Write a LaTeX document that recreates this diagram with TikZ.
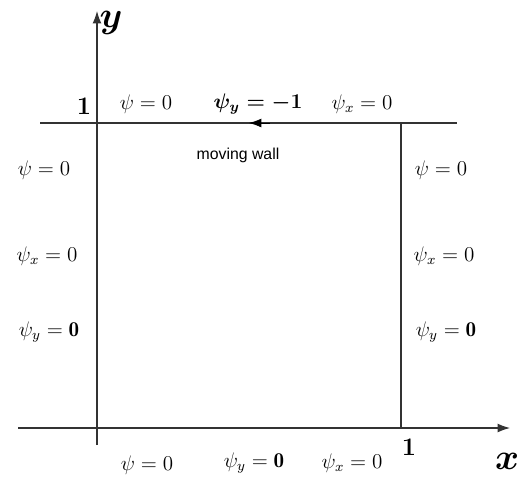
\documentclass[tikz,border=0pt]{standalone}
\usepackage{amsmath, amssymb}
\usepackage{fontspec}
\usepackage{tikz}
\usetikzlibrary{positioning, arrows.meta}
\newfontfamily\wallfont{Liberation Sans}
\tikzset{
  bc/.style={font=\large, inner sep=1pt},
  wall/.style={black!80, line width=0.6pt},
  axis/.style={black!80, line width=0.6pt, -{Latex[length=7pt,width=5pt]}}
}

\begin{document}
\begin{tikzpicture}[x=0.02cm, y=-0.02cm]
    \useasboundingbox (0,0) rectangle (519,477);
    % corners and axis ends
    \coordinate (O) at (97,428);
    \coordinate (xs) at (18,428);
    \coordinate (xe) at (510,428);
    \coordinate (ys) at (97,445);
    \coordinate (ye) at (97,11);
    \coordinate (tl) at (40,123);
    \coordinate (tr) at (457,123);
    \coordinate (rt) at (401,123);
    \coordinate (rb) at (401,428);
    \coordinate (wa) at (270,123);
    \coordinate (wb) at (249,123);
    % axes
    \draw[axis] (xs) -- (xe);
    \draw[axis] (ys) -- (ye);
    % walls
    \draw[wall] (tl) -- (tr);
    \draw[wall] (rt) -- (rb);
    \draw[-{Latex[length=7pt,width=5pt]}] (wa) -- (wb);
    % axis labels
    \node[bc, font=\huge] (ylab) at (111,23) {$\boldsymbol{y}$};
    \node[bc, font=\huge] (xlab) at (507,461) {$\boldsymbol{x}$};
    \node[bc, font=\Large\bfseries] (one_y) at (84,106) {1};
    \node[bc, font=\Large\bfseries] (one_x) at (409,447) {1};
    % top wall
    \node[bc] (t1) at (146,104) {$\psi = 0$};
    \node[bc] (t2) at (258,104) {$\boldsymbol{\psi_y = -1}$};
    \node[bc] (t3) at (362,104) {$\psi_x = 0$};
    \node[bc, font=\wallfont\small] (mw) at (238,155) {moving wall};
    % side walls
    \foreach \sx/\nm in {47/l, 444/r} {
      \node[bc] (\nm1) at (\sx-3,170) {$\psi = 0$};
      \node[bc] (\nm2) at (\sx,256) {$\psi_x = 0$};
      \node[bc] (\nm3) at (\sx+2,332) {$\psi_y = \mathbf{0}$};
    }
    % bottom wall
    \node[bc] (b1) at (147,465) {$\psi = 0$};
    \node[bc] (b2) at (254,463) {$\psi_y = \mathbf{0}$};
    \node[bc] (b3) at (352,463) {$\psi_x = 0$};
\end{tikzpicture}
\end{document}
